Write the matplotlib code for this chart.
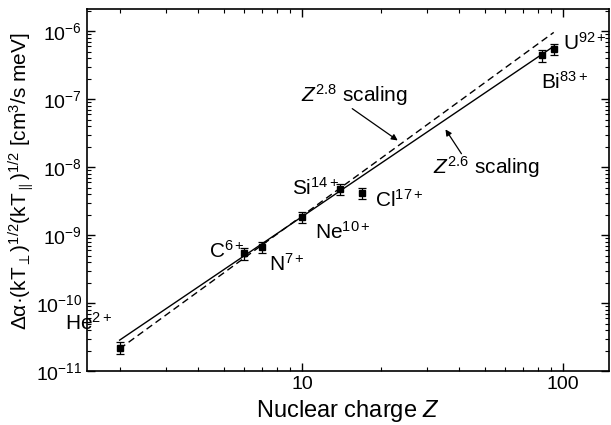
import numpy as np
import matplotlib
matplotlib.use("Agg")
import matplotlib.pyplot as plt
from matplotlib.patches import FancyArrowPatch
from matplotlib.ticker import FixedLocator, FuncFormatter, LogLocator, NullFormatter

plt.rcParams['font.family'] = ['Liberation Sans', 'DejaVu Sans']
plt.rcParams['mathtext.fontset'] = 'custom'
plt.rcParams['mathtext.rm'] = 'Liberation Sans'
plt.rcParams['mathtext.it'] = 'Liberation Sans:italic'
plt.rcParams['mathtext.bf'] = 'Liberation Sans:bold'

# measured rate coefficients
ions = ["He", "C", "N", "Ne", "Si", "Cl", "Bi", "U"]
charges = ["2+", "6+", "7+", "10+", "14+", "17+", "83+", "92+"]
Z = np.array([2, 6, 7, 10, 14, 17, 83, 92])
rate = np.array([2.2e-11, 5.4e-10, 6.7e-10, 1.85e-9, 4.8e-9, 4.2e-9, 4.4e-7, 5.5e-7])
rel_err = np.array([0.2, 0.2, 0.18, 0.18, 0.18, 0.18, 0.2, 0.2])

# scaling laws
coef_26 = 4.7e-12
coef_28 = 3.05e-12
z_fit = np.array([2.0, 92.0])

# axis ticks
x_ticks = [10, 100]
y_ticks = [1e-11, 1e-10, 1e-9, 1e-8, 1e-7, 1e-6]

# label offsets in points (baseline)
offsets = [(-39, 13), (-25, -3), (5, -17), (9, -16), (-35, -4), (9, -10), (-1, -24), (7, -1)]

fig, ax = plt.subplots(figsize=(6.11, 4.25), dpi=100)
fig.subplots_adjust(left=0.1424, right=0.997, top=0.978, bottom=0.127)

zz = np.logspace(np.log10(z_fit[0]), np.log10(z_fit[1]), 200)
ax.plot(zz, coef_26 * zz**2.6, color='black', lw=1.0)
ax.plot(zz, coef_28 * zz**2.8, color='black', lw=1.0, ls=(0, (5, 3)))

ax.errorbar(Z, rate, yerr=rate * rel_err, fmt='s', color='black', ms=5,
            capsize=3, elinewidth=0.9, capthick=0.9)

for name, q, z, r, off in zip(ions, charges, Z, rate, offsets):
    ax.annotate(name + r'$^{\mathregular{' + q + '}}$', (z, r), xytext=off,
                textcoords='offset points', fontsize=15, ha='left', va='baseline')

# scaling labels with arrows (axes fraction)
ax.text(0.513, 0.764, r'$Z^{2.8}$ scaling', transform=ax.transAxes,
        fontsize=15, ha='center', va='center')
ax.add_patch(FancyArrowPatch((0.5036, 0.7299), (0.5994, 0.6331), transform=ax.transAxes,
                             arrowstyle='-|>', color='black', lw=0.9, mutation_scale=9))
ax.text(0.764, 0.565, r'$Z^{2.6}$ scaling', transform=ax.transAxes,
        fontsize=15, ha='center', va='center')
ax.add_patch(FancyArrowPatch((0.720, 0.5944), (0.6836, 0.6746), transform=ax.transAxes,
                             arrowstyle='-|>', color='black', lw=0.9, mutation_scale=9))

ax.set_xscale('log')
ax.set_yscale('log')
ax.set_xlim(1.5, 150)
ax.set_ylim(1e-11, 2.1e-6)

ax.xaxis.set_major_locator(FixedLocator(x_ticks))
ax.xaxis.set_minor_locator(LogLocator(base=10, subs=np.arange(2, 10)))
ax.xaxis.set_major_formatter(FuncFormatter(lambda v, p: '%d' % v))
ax.xaxis.set_minor_formatter(NullFormatter())
ax.yaxis.set_major_locator(FixedLocator(y_ticks))
ax.yaxis.set_minor_locator(LogLocator(base=10, subs=np.arange(2, 10), numticks=20))
ax.yaxis.set_minor_formatter(NullFormatter())

ax.tick_params(which='both', direction='in', top=True, right=True, labelsize=14)
ax.tick_params(which='major', length=6, width=1)
ax.tick_params(which='minor', length=3, width=0.8)
for s in ax.spines.values():
    s.set_linewidth(1.2)

ax.set_xlabel(r'Nuclear charge $Z$', fontsize=17, labelpad=4)
ax.set_ylabel('Δα·(kT$_{\\perp}$)$^{\\mathregular{1/2}}$(kT$_{\\parallel}$)$^{\\mathregular{1/2}}$ [cm$^{\\mathregular{3}}$/s meV]',
              fontsize=15)
ax.yaxis.set_label_coords(-0.098, 0.526)

plt.savefig('out.png', dpi=100)
